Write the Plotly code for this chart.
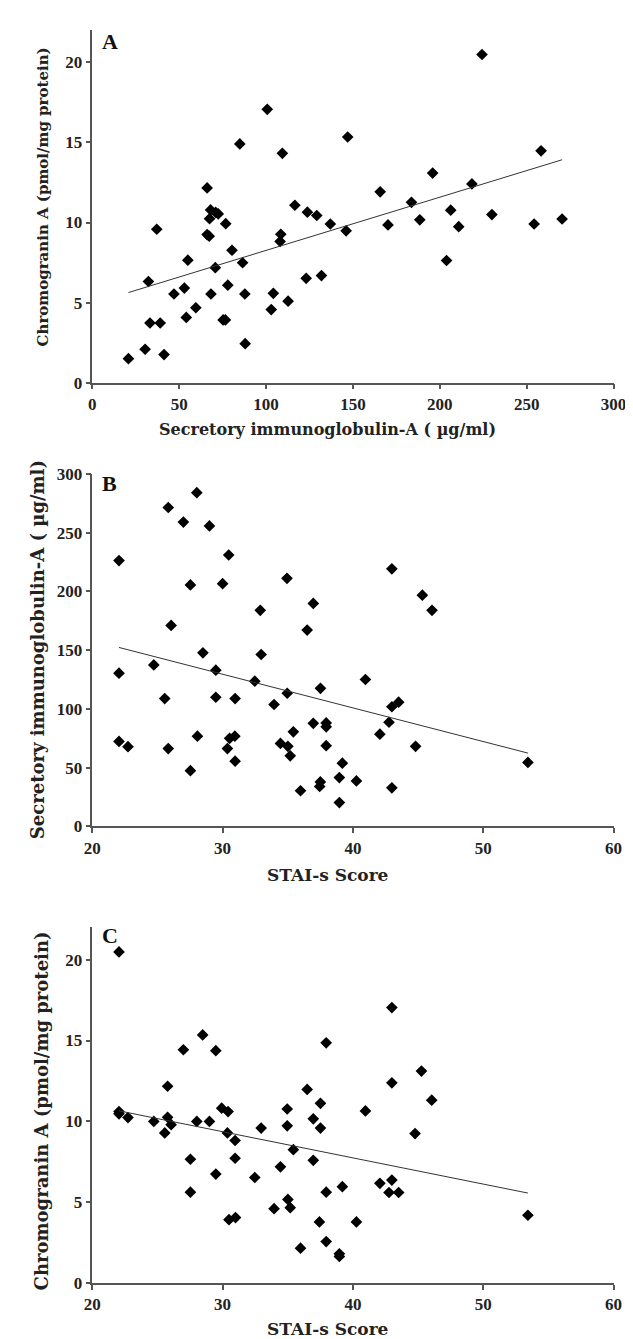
import numpy as np
import plotly.graph_objects as go

# ---------------- Data ----------------
# Panel A: Secretory IgA (x) vs Chromogranin A (y)
a_siga = [20.8, 30.4, 32.3, 33.2, 39.1, 37.1, 41.3, 47.0, 53.0, 54.1, 55.0, 59.6,
          66.1, 66.1, 67.3, 67.5, 68.1, 68.3, 70.8, 71.0, 72.5, 75.3, 76.6, 76.8,
          78.0, 80.4, 84.9, 86.5, 88.0, 87.8, 100.7, 103.0, 104.2, 109.4, 108.5,
          108.1, 112.7, 116.6, 123.8, 123.1, 129.2, 131.9,
          137.0, 146.1, 147.0, 165.7, 170.2, 183.7, 188.5, 195.9, 203.9, 206.3,
          210.9, 218.5, 224.3, 230.0, 254.3, 258.3, 270.4]
a_cga = [1.50, 2.09, 6.32, 3.73, 3.73, 9.58, 1.76, 5.54, 5.91, 4.08, 7.65, 4.68,
         12.16, 9.25, 9.15, 10.24, 10.79, 5.54, 7.18, 10.63, 10.54, 3.92, 3.92, 9.93,
         6.09, 8.27, 14.91, 7.49, 2.44, 5.54, 17.07, 4.57, 5.58, 14.32, 9.27,
         8.82, 5.09, 11.08, 10.65, 6.52, 10.44, 6.69,
         9.91, 9.48, 15.34, 11.92, 9.85, 11.26, 10.17, 13.09, 7.63, 10.77,
         9.74, 12.41, 20.49, 10.50, 9.91, 14.48, 10.22]

# Panel B: STAI-s score (x) vs Secretory IgA (y)
b_stai = [22.05, 22.05, 22.05, 22.74, 24.72, 25.56, 25.83, 25.83, 26.05, 26.99,
          27.53, 27.53, 28.02, 28.07, 28.49, 28.99, 29.48, 29.48, 30.0, 30.47,
          30.37, 30.54, 30.94, 30.96, 30.96, 32.47, 32.89, 32.96, 33.95, 34.44,
          34.94, 34.96, 35.01, 35.19, 35.43, 35.98, 36.49, 36.96, 36.96, 37.51,
          37.45, 37.5,
          37.95, 37.95, 37.95, 39.19, 38.96, 38.96, 40.27, 40.96, 42.07, 42.77,
          42.99, 43.51, 42.99, 42.99, 44.81, 45.33, 46.07, 53.43]
b_siga = [226.2, 130.4, 72.3, 67.8, 137.4, 108.8, 271.4, 66.2, 171.0, 259.0,
          205.5, 47.4, 284.0, 76.8, 147.7, 255.7, 132.9, 109.9, 206.6, 231.0,
          66.2, 74.9, 76.8, 108.8, 55.5, 123.6, 183.9, 146.3, 103.7, 70.6,
          211.1, 113.3, 68.1, 60.0, 80.5, 30.3, 167.1, 87.7, 189.8, 117.5,
          33.9, 37.8,
          88.0, 84.7, 68.7, 53.8, 41.5, 20.2, 38.7, 125.0, 78.5, 88.6,
          101.8, 105.7, 219.2, 32.8, 68.1, 196.8, 183.9, 54.4]

# Panel C: STAI-s score (x) vs Chromogranin A (y)
c_stai = [22.05, 22.05, 22.05, 22.74, 24.72, 25.56, 25.78, 25.78, 26.05, 26.99,
          27.53, 27.53, 28.02, 28.47, 28.99, 29.48, 29.48, 29.93, 30.42, 30.37,
          30.96, 30.96, 30.49, 30.99, 32.47, 32.96, 33.95, 34.44, 34.96, 34.96,
          35.01, 35.19, 35.43, 35.98, 36.49, 36.96, 36.96, 37.51, 37.51, 37.43,
          37.95, 37.95, 37.95, 38.96, 38.96, 39.19, 40.27, 40.96, 42.07, 42.77,
          42.99, 43.51, 42.99, 42.99, 44.77, 45.26, 46.05, 53.43]
c_cga = [20.49, 10.60, 10.46, 10.23, 9.99, 9.28, 12.17, 10.25, 9.79, 14.43,
         7.65, 5.61, 9.99, 15.35, 9.99, 14.37, 6.73, 10.81, 10.60, 9.28,
         8.81, 7.71, 3.91, 4.04, 6.52, 9.58, 4.59, 7.18, 10.76, 9.72,
         5.16, 4.65, 8.24, 2.14, 11.97, 10.15, 7.58, 11.11, 9.58, 3.77,
         14.86, 5.61, 2.55, 1.79, 1.63, 5.95, 3.77, 10.64, 6.16, 5.59,
         6.36, 5.59, 17.04, 12.38, 9.24, 13.11, 11.31, 4.18]

a_xticks = [0, 50, 100, 150, 200, 250, 300]
a_yticks = [0, 5, 10, 15, 20]
b_xticks = [20, 30, 40, 50, 60]
b_yticks = [0, 50, 100, 150, 200, 250, 300]
c_xticks = [20, 30, 40, 50, 60]
c_yticks = [0, 5, 10, 15, 20]

panel_labels = ["A", "B", "C"]
x_titles = ["Secretory immunoglobulin-A ( \u00b5g/ml)", "STAI-s Score", "STAI-s Score"]
y_titles = ["Chromogranin A (pmol/mg protein)", "Secretory immunoglobulin-A ( \u00b5g/ml)",
            "Chromogranin A (pmol/mg protein)"]

# ---------------- Figure ----------------
W, H = 633, 1339
FONT = "Liberation Serif"
TFONT = "DejaVu Serif"
AXC = "#555555"

def px(v):  # pixel (from top) to paper y
    return 1 - v / H

def pxx(v):
    return v / W

fig = go.Figure()

panels = [
    (a_siga, a_cga, "x", "y"),
    (b_stai, b_siga, "x2", "y2"),
    (c_stai, c_cga, "x3", "y3"),
]
for xs, ys, xa, ya in panels:
    fig.add_trace(go.Scatter(x=xs, y=ys, mode="markers", xaxis=xa, yaxis=ya,
                             marker=dict(symbol="diamond", size=9, color="black"),
                             showlegend=False, hoverinfo="x+y"))
    xarr = np.array(xs)
    yarr = np.array(ys)
    m, b = np.polyfit(xarr, yarr, 1)
    lx = np.array([xarr.min(), xarr.max()])
    fig.add_trace(go.Scatter(x=lx, y=m * lx + b, mode="lines", xaxis=xa, yaxis=ya,
                             line=dict(color="#333333", width=1),
                             showlegend=False, hoverinfo="skip"))

xdom = [pxx(78), pxx(618)]
ydoms = [[px(371), px(13.5)], [px(821), px(463.5)], [px(1284), px(923.6)]]
xranges = [[0, 300], [20, 60], [20, 60]]
yranges = [[0, 22], [0, 300], [0, 22]]
xt = [a_xticks, b_xticks, c_xticks]
yt = [a_yticks, b_yticks, c_yticks]

tickfont = dict(family=FONT, size=17, color="#222222", weight="bold")
layout = dict(width=W, height=H, margin=dict(l=0, r=0, t=0, b=0),
              paper_bgcolor="white", plot_bgcolor="white", showlegend=False)
for i in range(3):
    sx = "" if i == 0 else str(i + 1)
    layout["xaxis" + sx] = dict(domain=xdom, range=xranges[i], tickvals=xt[i],
                                anchor="y" + sx, showline=True, linecolor=AXC, linewidth=1.5,
                                ticks="outside", ticklen=5, tickcolor=AXC, tickwidth=1.5,
                                showgrid=False, zeroline=False, tickfont=tickfont)
    layout["yaxis" + sx] = dict(domain=ydoms[i], range=yranges[i], tickvals=yt[i],
                                anchor="x" + sx, showline=True, linecolor=AXC, linewidth=1.5,
                                ticks="outside", ticklen=5, tickcolor=AXC, tickwidth=1.5,
                                showgrid=False, zeroline=False, tickfont=tickfont)
fig.update_layout(**layout)

# titles and panel labels
xt_pos = [418, 870, 1331]
xt_size = [16, 17, 17]
yt_pos = [(27, 183), (22, 642), (25, 1110)]
yt_size = [15, 18, 18]
lab_pos = [25, 473, 932]
anns = []
for i in range(3):
    anns.append(dict(text=x_titles[i], x=pxx(322), y=px(xt_pos[i]), xref="paper", yref="paper",
                     showarrow=False, xanchor="center", yanchor="middle",
                     font=dict(family=TFONT, size=xt_size[i], color="#222222", weight="bold")))
    anns.append(dict(text=y_titles[i], x=pxx(yt_pos[i][0]), y=px(yt_pos[i][1]), xref="paper",
                     yref="paper", showarrow=False, xanchor="center", yanchor="middle",
                     textangle=-90,
                     font=dict(family=TFONT, size=yt_size[i], color="#222222", weight="bold")))
    anns.append(dict(text=panel_labels[i], x=pxx(96), y=px(lab_pos[i]), xref="paper", yref="paper",
                     showarrow=False, xanchor="center", yanchor="middle",
                     font=dict(family=FONT, size=22, color="#111111", weight="bold")))
fig.update_layout(annotations=anns)

fig.write_html("out.html")
